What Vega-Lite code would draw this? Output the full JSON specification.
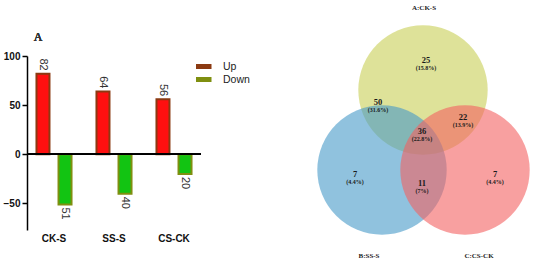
{
  "$schema": "https://vega.github.io/schema/vega-lite/v6.json",
  "padding": 0,
  "spacing": 41,
  "config": {"view": {"stroke": null}, "font": "Liberation Sans"},
  "hconcat": [
    {
      "width": 174,
      "height": 230,
      "data": {"values": [
        {"group": "CK-S", "type": "Up", "value": 82},
        {"group": "CK-S", "type": "Down", "value": -51},
        {"group": "SS-S", "type": "Up", "value": 64},
        {"group": "SS-S", "type": "Down", "value": -40},
        {"group": "CS-CK", "type": "Up", "value": 56},
        {"group": "CS-CK", "type": "Down", "value": -20}
      ]},
      "layer": [
        {
          "mark": {"type": "bar", "strokeWidth": 2},
          "encoding": {
            "x": {"field": "group", "type": "nominal", "sort": ["CK-S", "SS-S", "CS-CK"],
              "scale": {"paddingInner": 0.1, "paddingOuter": 0},
              "axis": {"title": null, "domain": false, "ticks": false, "labelAngle": 0, "labelFontWeight": "bold", "labelFontSize": 10, "labelColor": "#111", "labelPadding": 3}},
            "xOffset": {"field": "type", "type": "nominal", "sort": ["Up", "Down"], "scale": {"paddingInner": 0.41, "paddingOuter": 0.43}},
            "y": {"field": "value", "type": "quantitative",
              "scale": {"domain": [-77, 100], "range": [230, 56], "nice": false, "zero": false},
              "axis": {"title": null, "values": [-50, 0, 50, 100], "grid": false, "domainColor": "#000", "domainWidth": 1.5, "tickColor": "#000", "tickWidth": 1.5, "tickSize": 5, "labelFontWeight": "bold", "labelFontSize": 10, "labelColor": "#111", "labelPadding": 2, "minExtent": 27, "maxExtent": 27}},
            "fill": {"field": "type", "type": "nominal", "scale": {"domain": ["Down", "Up"], "range": ["#12c412", "#ff1010"]}, "legend": null},
            "stroke": {"field": "type", "type": "nominal", "scale": {"domain": ["Up", "Down"], "range": ["#8b3a12", "#7f8f10"]},
              "legend": {"orient": "none", "legendX": 169, "legendY": 60, "title": null, "symbolType": "M-2.25,0H2.25", "symbolSize": 64, "symbolStrokeWidth": 5, "labelFontSize": 10.5, "labelColor": "#222", "labelOffset": 14, "rowPadding": 0, "clipHeight": 13}}
          }
        },
        {
          "mark": {"type": "rule", "color": "#000", "strokeWidth": 1.5},
          "encoding": {"y": {"datum": 0}}
        },
        {
          "transform": [{"filter": "datum.type === 'Up'"}],
          "mark": {"type": "text", "angle": 90, "align": "right", "baseline": "middle", "dx": -3, "fontSize": 11, "color": "#333"},
          "encoding": {
            "x": {"field": "group", "type": "nominal", "sort": ["CK-S", "SS-S", "CS-CK"]},
            "xOffset": {"field": "type", "type": "nominal", "sort": ["Up", "Down"]},
            "y": {"field": "value", "type": "quantitative"},
            "text": {"field": "value", "type": "quantitative"}
          }
        },
        {
          "transform": [{"filter": "datum.type === 'Down'"}, {"calculate": "abs(datum.value)", "as": "label"}],
          "mark": {"type": "text", "angle": 90, "align": "left", "baseline": "middle", "dx": 3, "fontSize": 11, "color": "#333"},
          "encoding": {
            "x": {"field": "group", "type": "nominal", "sort": ["CK-S", "SS-S", "CS-CK"]},
            "xOffset": {"field": "type", "type": "nominal", "sort": ["Up", "Down"]},
            "y": {"field": "value", "type": "quantitative"},
            "text": {"field": "label", "type": "quantitative"}
          }
        },
        {
          "mark": {"type": "text", "font": "Liberation Serif", "fontSize": 12, "color": "#333", "dx": -16},
          "encoding": {"x": {"datum": "CK-S"}, "y": {"datum": 119}, "text": {"value": "A"}}
        }
      ]
    },
    {
      "width": 250,
      "height": 264,
      "layer": [
        {
          "data": {"values": [
            {"set": "A:CK-S", "cx": 132, "cy": 90},
            {"set": "B:SS-S", "cx": 91, "cy": 170},
            {"set": "C:CS-CK", "cx": 174, "cy": 170}
          ]},
          "mark": {"type": "circle", "size": 16742, "opacity": 0.6},
          "encoding": {
            "x": {"field": "cx", "type": "quantitative", "scale": {"domain": [0, 250], "nice": false, "zero": false}, "axis": null},
            "y": {"field": "cy", "type": "quantitative", "scale": {"domain": [0, 264], "nice": false, "zero": false, "reverse": true}, "axis": null},
            "fill": {"field": "set", "type": "nominal", "scale": {"domain": ["A:CK-S", "B:SS-S", "C:CS-CK"], "range": ["#c8cf55", "#4699c8", "#f36161"]}, "legend": null}
          }
        },
        {
          "data": {"values": [
            {"set": "A:CK-S", "lx": 133, "ly": 8},
            {"set": "B:SS-S", "lx": 78, "ly": 256},
            {"set": "C:CS-CK", "lx": 188, "ly": 256}
          ]},
          "mark": {"type": "text", "font": "Liberation Serif", "fontWeight": "bold", "fontSize": 7, "color": "#222"},
          "encoding": {
            "x": {"field": "lx", "type": "quantitative"},
            "y": {"field": "ly", "type": "quantitative"},
            "text": {"field": "set"}
          }
        },
        {
          "data": {"values": [
            {"n": "25", "pct": "(15.8%)", "rx": 135, "ry": 64},
            {"n": "50", "pct": "(31.6%)", "rx": 87, "ry": 106},
            {"n": "22", "pct": "(13.9%)", "rx": 172, "ry": 121},
            {"n": "36", "pct": "(22.8%)", "rx": 131, "ry": 135},
            {"n": "7", "pct": "(4.4%)", "rx": 64, "ry": 178},
            {"n": "11", "pct": "(7%)", "rx": 131, "ry": 187},
            {"n": "7", "pct": "(4.4%)", "rx": 204, "ry": 178}
          ]},
          "layer": [
            {
              "mark": {"type": "text", "font": "Liberation Serif", "fontWeight": "bold", "fontSize": 8.5, "color": "#1a1a1a", "dy": -4},
              "encoding": {
                "x": {"field": "rx", "type": "quantitative"},
                "y": {"field": "ry", "type": "quantitative"},
                "text": {"field": "n"}
              }
            },
            {
              "mark": {"type": "text", "font": "Liberation Serif", "fontWeight": "bold", "fontSize": 6, "color": "#1a1a1a", "dy": 4},
              "encoding": {
                "x": {"field": "rx", "type": "quantitative"},
                "y": {"field": "ry", "type": "quantitative"},
                "text": {"field": "pct"}
              }
            }
          ]
        },
        {
          "mark": {"type": "text", "font": "Liberation Serif", "fontSize": 13, "color": "#333"},
          "encoding": {"x": {"datum": 37}, "y": {"datum": 34}, "text": {"value": "B"}}
        }
      ]
    }
  ],
  "resolve": {
    "scale": {"x": "independent", "y": "independent", "fill": "independent", "stroke": "independent"},
    "legend": {"fill": "independent", "stroke": "independent"}
  }
}
